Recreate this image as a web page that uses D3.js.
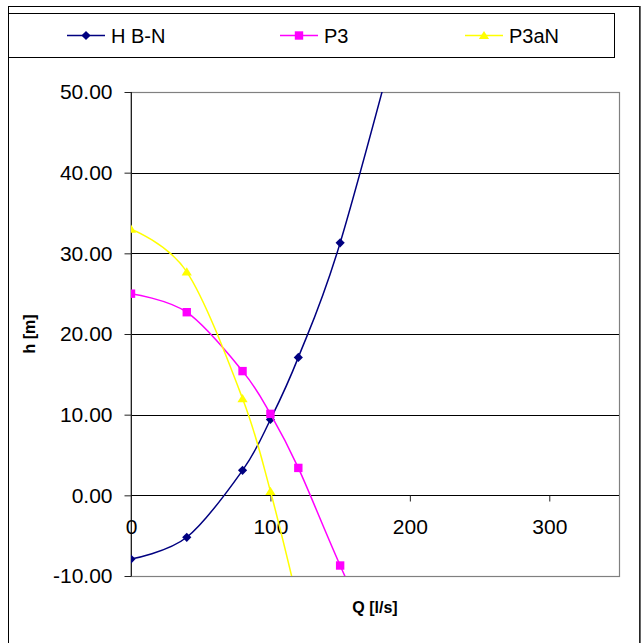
<!DOCTYPE html>
<html>
<head>
<meta charset="utf-8">
<script src="https://cdn.jsdelivr.net/npm/d3@7"></script>
<style>
  html, body { margin: 0; padding: 0; background: #fff; }
  svg { display: block; font-family: "Liberation Sans", Arial, sans-serif; }
</style>
</head>
<body>
<svg id="chart" width="642" height="643"></svg>
<script>
// ---- data ----
const seriesNames = ["H B-N", "P3", "P3aN"];
const qHBN = [0, 40, 80, 100, 120, 150, 200];
const hHBN = [-7.9, -5.2, 3.1, 9.4, 17.1, 31.3, 63];
const qP3 = [0, 40, 80, 100, 120, 150, 200];
const hP3 = [25.0, 22.7, 15.4, 10.1, 3.4, -8.7, -28];
const qP3aN = [0, 40, 80, 100, 120];
const hP3aN = [33.0, 27.7, 12.0, 0.5, -13.5];
const xTicks = [0, 100, 200, 300];
const yTicks = [-10, 0, 10, 20, 30, 40, 50];
const xTitle = "Q [l/s]";
const yTitle = "h [m]";

// ---- layout ----
const svg = d3.select("#chart");
const L = 131, R = 619, T = 92, B = 576;
const x = d3.scaleLinear().domain([0, 350]).range([L, R]);
const y = d3.scaleLinear().domain([-10, 50]).range([B, T]);
const fmt = d3.formatLocale({decimal: ".", thousands: ",", grouping: [3], currency: ["", ""], minus: "-"}).format(".2f");

const colors = ["#000080", "#FF00FF", "#FFFF00"];
const shapes = ["diamond", "square", "triangle"];
const series = [
  {name: seriesNames[0], q: qHBN, h: hHBN},
  {name: seriesNames[1], q: qP3, h: hP3},
  {name: seriesNames[2], q: qP3aN, h: hP3aN}
];

// outer frame
svg.append("rect").attr("x", 8.5).attr("y", 6.5).attr("width", 631).attr("height", 700)
  .attr("fill", "#fff").attr("stroke", "#000").attr("stroke-width", 1);
svg.append("line").attr("x1", 640).attr("x2", 640).attr("y1", 6).attr("y2", 643)
  .attr("stroke", "#333").attr("stroke-width", 1.5);

// plot area border
svg.append("rect").attr("x", L).attr("y", T + 0.5).attr("width", R - L + 0.5).attr("height", B - T)
  .attr("fill", "#fff").attr("stroke", "#808080").attr("stroke-width", 1.2);

// gridlines
svg.append("g").selectAll("line").data(yTicks.filter(d => d > -10 && d < 50)).join("line")
  .attr("x1", L).attr("x2", R)
  .attr("y1", d => Math.round(y(d)) + 0.5).attr("y2", d => Math.round(y(d)) + 0.5)
  .attr("stroke", "#000").attr("stroke-width", 1);

// y axis
const yAxis = d3.axisLeft(y).tickValues(yTicks).tickFormat(fmt).tickSize(7).tickPadding(12);
const gy = svg.append("g").attr("transform", `translate(${L + 0.5},0)`).call(yAxis);
gy.select(".domain").attr("stroke", "#222").attr("d", `M0,${T}V${B}`);
gy.selectAll(".tick line").attr("stroke", "#222");
gy.selectAll(".tick text").attr("font-size", 21).attr("font-family", "Liberation Sans, Arial, sans-serif").attr("fill", "#000");

// x axis at y=0
const xAxis = d3.axisBottom(x).tickValues(xTicks).tickFormat(d3.format("d")).tickSize(6).tickPadding(18);
const gx = svg.append("g").attr("transform", `translate(0,${Math.round(y(0)) + 0.5})`).call(xAxis);
gx.select(".domain").attr("stroke", "#000").attr("d", `M${L},0H${R}`);
gx.selectAll(".tick line").attr("stroke", "#222");
gx.selectAll(".tick text").attr("font-size", 21).attr("font-family", "Liberation Sans, Arial, sans-serif").attr("fill", "#000");

// axis titles
svg.append("text").attr("x", (L + R) / 2).attr("y", 613).attr("text-anchor", "middle")
  .attr("font-size", 16).attr("font-weight", "bold").text(xTitle);
svg.append("text").attr("transform", "translate(35,334) rotate(-90)").attr("text-anchor", "middle")
  .attr("font-size", 16).attr("font-weight", "bold").text(yTitle);

// clip
svg.append("clipPath").attr("id", "clip").append("rect")
  .attr("x", L).attr("y", T).attr("width", R - L).attr("height", B - T);

function markerPath(shape, s) {
  if (shape === "diamond") return `M0,${-s}L${s},0L0,${s}L${-s},0Z`;
  if (shape === "square") return `M${-s},${-s}H${s}V${s}H${-s}Z`;
  return `M0,${-s}L${s + 0.5},${s - 1}H${-s - 0.5}Z`;
}
const markerSize = {diamond: 4.6, square: 4.2, triangle: 4.6};

const line = d3.line().curve(d3.curveCardinal.tension(0)).x(d => x(d[0])).y(d => y(d[1]));
const gs = svg.append("g").attr("clip-path", "url(#clip)");
series.forEach((s, i) => {
  const pts = s.q.map((q, j) => [q, s.h[j]]);
  gs.append("path").datum(pts).attr("d", line).attr("fill", "none")
    .attr("stroke", colors[i]).attr("stroke-width", 1.5);
  gs.append("g").selectAll("path").data(pts.filter(p => p[0] <= 350 && p[1] >= -10 && p[1] <= 50)).join("path")
    .attr("transform", p => `translate(${x(p[0])},${y(p[1])})`)
    .attr("d", markerPath(shapes[i], markerSize[shapes[i]]))
    .attr("fill", colors[i]).attr("stroke", "none");
});

// legend
svg.append("rect").attr("x", 8.5).attr("y", 13.5).attr("width", 606).attr("height", 44)
  .attr("fill", "#fff").attr("stroke", "#000").attr("stroke-width", 1);
const legX = [86, 299, 484];
const lg = svg.append("g");
series.forEach((s, i) => {
  const cx = legX[i], cy = 35.5;
  lg.append("line").attr("x1", cx - 19).attr("x2", cx + 19).attr("y1", cy).attr("y2", cy)
    .attr("stroke", colors[i]).attr("stroke-width", 1.5);
  lg.append("path").attr("transform", `translate(${cx},${cy})`)
    .attr("d", markerPath(shapes[i], markerSize[shapes[i]])).attr("fill", colors[i]);
  lg.append("text").attr("x", cx + 25).attr("y", cy + 7).attr("font-size", 20).attr("fill", "#000").text(s.name);
});
</script>
</body>
</html>
